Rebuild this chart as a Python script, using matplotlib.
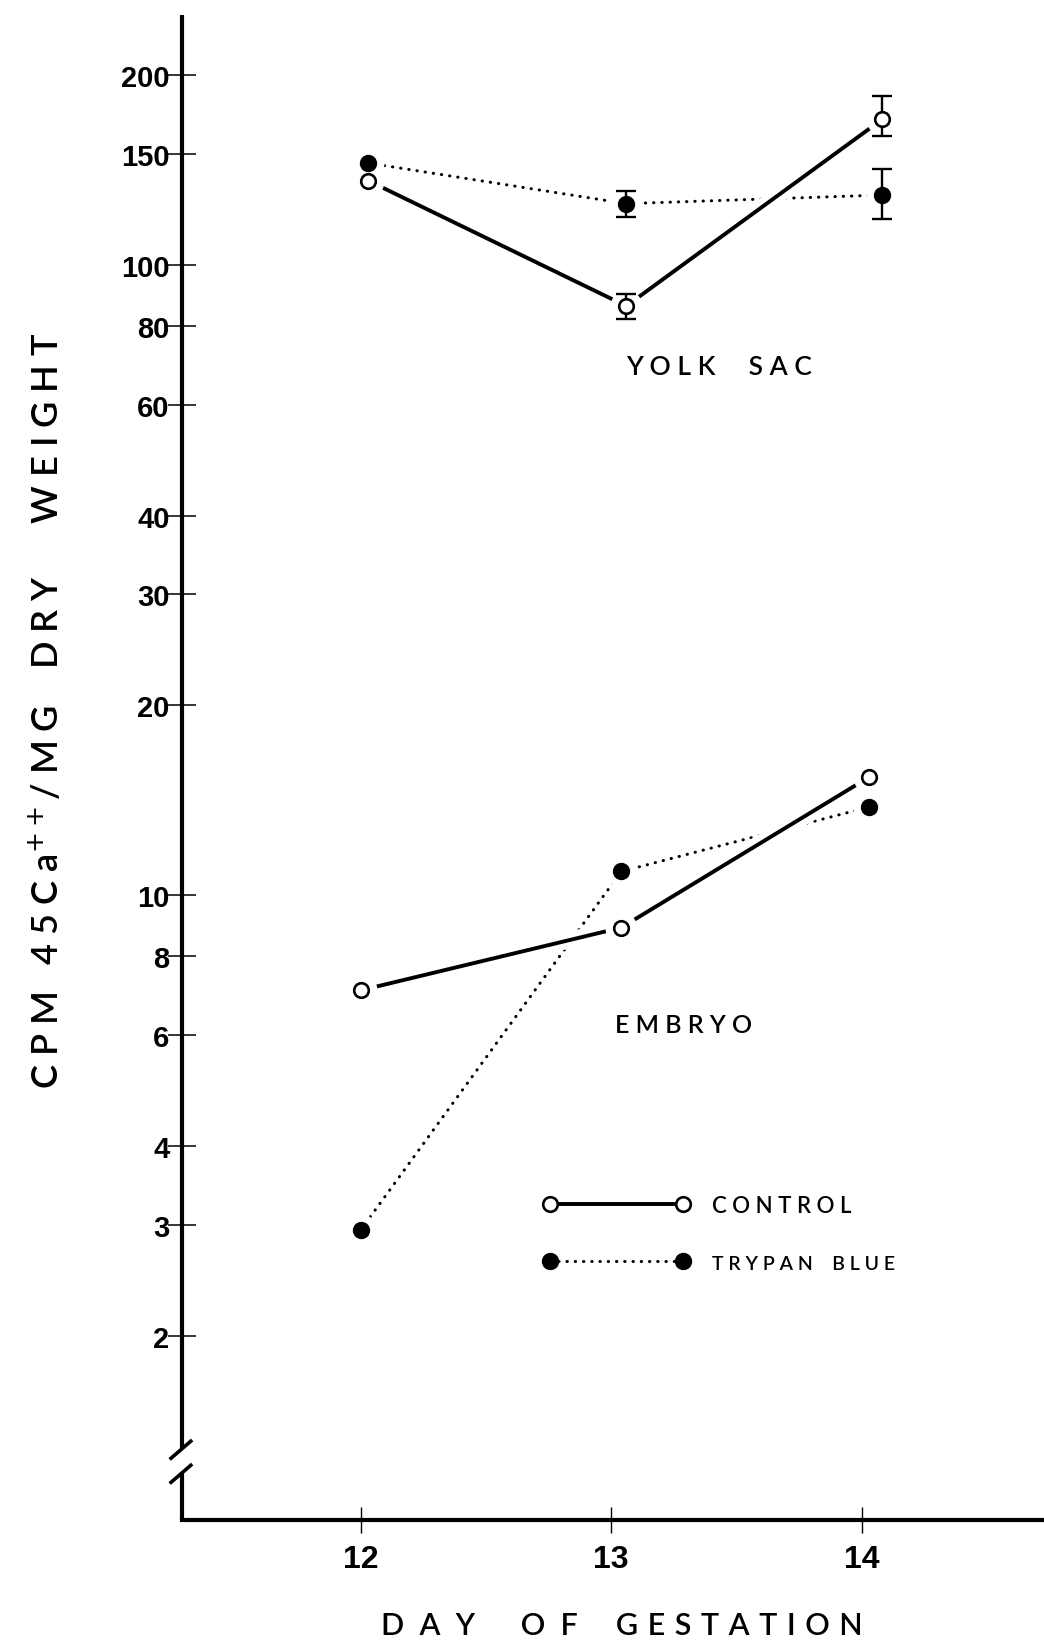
import numpy as np
import matplotlib.pyplot as plt
from matplotlib.lines import Line2D

# values (day of gestation, cpm 45Ca++/mg dry weight)
day_ticks = [12, 13, 14]
yolk_x = [12.03, 13.06, 14.08]
embryo_x = [12.0, 13.04, 14.03]

yolk_control = [136, 86, 170]
yolk_trypan = [145, 125, 129]
# error bars only at days 13 and 14
yolk_err_x = [13.06, 14.08]
yolk_control_err = [[4, 10], [4, 15]]   # [lower], [upper]
yolk_trypan_err = [[6, 11], [6, 13]]
yolk_err_control_y = [86, 170]
yolk_err_trypan_y = [125, 129]

embryo_control = [7.06, 8.88, 15.4]
embryo_trypan = [2.94, 10.9, 13.8]

y_ticks = [2, 3, 4, 6, 8, 10, 20, 30, 40, 60, 80, 100, 150, 200]
y_tick_labels = [str(t) for t in y_ticks]
x_tick_labels = ['12', '13', '14']

num_font = ['Liberation Sans Narrow', 'Liberation Sans', 'DejaVu Sans']
txt_font = ['Lato', 'DejaVu Sans']
hs = '\u200a'  # hair space for tighter letter spacing

fig = plt.figure(figsize=(10.44, 16.49), dpi=100)
ax = fig.add_axes([182 / 1044, 1 - 1521 / 1649, 1 - 182 / 1044, 1505 / 1649])
ax.set_yscale('log')
ax.set_xlim(11.288, 14.726)
ax.set_ylim(1.02, 249)

dotted = (0, (0.1, 2.6))


def draw_group(x, control, trypan):
    # trypan blue: dotted line with filled circles
    ax.plot(x, trypan, color='black', lw=2.2, ls=dotted, dash_capstyle='round', zorder=2)
    # white band under the control line breaks the dotted line where they cross
    ax.plot(x, control, color='white', lw=12, solid_capstyle='butt', zorder=3)
    ax.plot(x, control, color='black', lw=2.8, zorder=4)
    # white halos so the lines stop short of the points
    ax.plot(x, control, 'o', ms=22, color='white', zorder=5)
    ax.plot(x, trypan, 'o', ms=22, color='white', zorder=5)
    ax.plot(x, control, 'o', ms=10.5, mfc='white', mec='black', mew=1.9, ls='none', zorder=7)
    ax.plot(x, trypan, 'o', ms=11.5, color='black', ls='none', zorder=7)


draw_group(yolk_x, yolk_control, yolk_trypan)
draw_group(embryo_x, embryo_control, embryo_trypan)

ax.errorbar(yolk_err_x, yolk_err_control_y, yerr=yolk_control_err, fmt='none',
            ecolor='black', elinewidth=1.7, capsize=7, capthick=1.7, zorder=6)
ax.errorbar(yolk_err_x, yolk_err_trypan_y, yerr=yolk_trypan_err, fmt='none',
            ecolor='black', elinewidth=1.7, capsize=7, capthick=1.7, zorder=6)

ax.text(13.43, 69, 'Y O L K     S A C', family=txt_font, fontsize=19,
        fontweight='semibold', ha='center', va='center')
ax.text(13.29, 6.24, 'E M B R Y O', family=txt_font, fontsize=18,
        fontweight='semibold', ha='center', va='center')

# axes
ax.minorticks_off()
ax.set_yticks(y_ticks, y_tick_labels, family=num_font, fontweight='bold', fontsize=21)
ax.set_xticks(day_ticks, x_tick_labels, family=num_font, fontweight='bold', fontsize=23)
ax.tick_params(axis='y', direction='inout', length=20, width=1.1, pad=-1)
ax.tick_params(axis='x', direction='inout', length=19, width=1.0, pad=8)
for side in ['top', 'right', 'left']:
    ax.spines[side].set_visible(False)
ax.spines['bottom'].set_linewidth(3)

# left axis with a break near the bottom
brk_hi, brk_lo = 0.047, 0.031
ax.plot([0, 0], [brk_hi, 1], transform=ax.transAxes, color='black', lw=3,
        clip_on=False, solid_capstyle='butt', zorder=8)
ax.plot([0, 0], [0, brk_lo], transform=ax.transAxes, color='black', lw=3,
        clip_on=False, solid_capstyle='butt', zorder=8)
dx, dy = 11 / 862, 9 / 1505
for yb in [brk_hi, brk_lo]:
    ax.plot([-dx, dx * 0.8], [yb - dy, yb + dy * 0.9], transform=ax.transAxes,
            color='black', lw=2.6, clip_on=False, zorder=8)

# legend
handles = [
    Line2D([], [], color='black', lw=2.8, marker='o', ms=10.5, mfc='white', mec='black', mew=1.9),
    Line2D([], [], color='black', lw=2.2, ls=dotted, dash_capstyle='round', marker='o', ms=11.5),
]
leg = ax.legend(handles, ['C O N T R O L', 'T R Y P A N    B L U E'],
                numpoints=2, handlelength=6.6, handletextpad=1.0, labelspacing=1.7,
                frameon=False, loc='upper left', bbox_to_anchor=(0.419, 0.216),
                borderaxespad=0, borderpad=0,
                prop={'family': txt_font, 'size': 16, 'weight': 'semibold'})
leg.get_texts()[1].set_fontsize(14)

fig.text(58 / 1044, 1 - 711 / 1649,
         'C P M   4 5 C a$^{++}$/ M G    D R Y      W E I G H T',
         family=txt_font, fontsize=26, fontweight='semibold', rotation=90,
         rotation_mode='anchor', ha='center', va='baseline')
xlab = ('D  A  Y      O  F     '
        + (' ' + hs).join('GESTATION'))
fig.text(622 / 1044, 1 - 1635 / 1649, xlab, family=txt_font, fontsize=22,
         fontweight='semibold', ha='center', va='baseline')

fig.savefig('out.png', dpi=100)
